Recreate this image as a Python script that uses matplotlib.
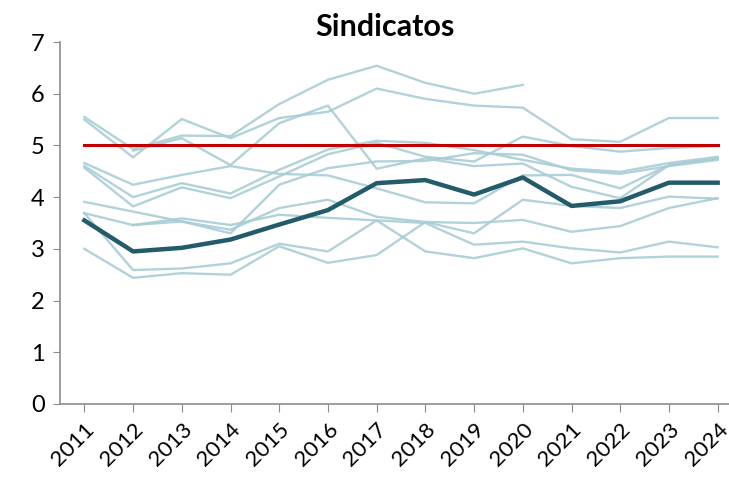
import numpy as np
import matplotlib
matplotlib.use('Agg')
from matplotlib import pyplot as plt

nan = np.nan
years = list(range(2011, 2025))

# individual series (light lines)
serie_a = [5.55, 4.93, 5.19, 5.18, 5.80, 6.27, 6.54, 6.21, 6.00, 6.17, nan, nan, nan, nan]
serie_b = [5.50, 4.77, 5.51, 5.14, 5.53, 5.65, 6.10, 5.90, 5.77, 5.73, 5.12, 5.07, 5.53, 5.53]
serie_c = [nan, 4.90, 5.14, 4.62, 5.43, 5.77, 4.55, 4.75, 4.60, 4.65, 4.20, 3.98, 4.62, 4.75]
serie_d = [4.66, 4.24, 4.43, 4.60, 4.45, 4.42, 4.17, 3.90, 3.88, 4.42, 4.43, 4.17, 4.62, 4.75]
serie_e = [4.60, 4.00, 4.27, 4.07, 4.53, 4.92, 5.09, 5.05, 4.91, 4.72, 4.55, 4.49, 4.66, 4.78]
serie_f = [4.57, 3.82, 4.19, 3.98, 4.40, 4.83, 5.05, 4.78, 4.69, 5.17, 4.99, 4.88, 4.95, 4.99]
serie_g = [nan, 3.46, 3.53, 3.30, 4.24, 4.56, 4.69, 4.70, 4.85, 4.82, 4.52, 4.45, 4.60, 4.72]
serie_h = [3.91, 3.72, 3.53, 3.37, 3.79, 3.95, 3.62, 3.52, 3.50, 3.56, 3.33, 3.44, 3.79, 3.98]
serie_i = [3.69, 3.46, 3.59, 3.46, 3.66, 3.60, 3.55, 3.50, 3.08, 3.14, 3.01, 2.93, 3.14, 3.03]
serie_j = [3.69, 2.59, 2.62, 2.72, 3.10, 2.95, 3.55, 2.95, 2.82, 3.01, 2.72, 2.82, 2.85, 2.85]
serie_k = [3.00, 2.44, 2.53, 2.50, 3.05, 2.73, 2.88, 3.52, 3.30, 3.95, 3.83, 3.79, 4.01, 3.97]

# average (dark line) and reference level
promedio = [3.55, 2.95, 3.02, 3.18, 3.47, 3.75, 4.27, 4.33, 4.05, 4.38, 3.83, 3.92, 4.28, 4.28]
referencia = 5

plt.rcParams['font.family'] = ['Lato', 'DejaVu Sans']

fig = plt.figure(figsize=(7.29, 4.84), dpi=100)
ax = fig.add_axes([60 / 729, 80 / 484, 682 / 729, 362 / 484])

for s in [serie_a, serie_b, serie_c, serie_d, serie_e, serie_f,
          serie_g, serie_h, serie_i, serie_j, serie_k]:
    ax.plot(years, s, color='#a9cdd6', lw=1.7, alpha=0.9)

ax.plot(years, [referencia] * len(years), color='#c00000', lw=2.2)
ax.plot(years, promedio, color='#235b6a', lw=3.2)

ax.set_xlim(2010.5, 2024.5)
ax.set_ylim(0, 7)
ax.set_yticks(range(0, 8))
ax.set_xticks(years)
ax.set_xticklabels([str(y) for y in years], rotation=45, ha='right',
                   rotation_mode='anchor', fontsize=16)
ax.tick_params(axis='y', labelsize=17, length=5, color='#8c8c8c', pad=6)
ax.tick_params(axis='x', length=6, color='#8c8c8c', pad=5)

for side in ['top', 'right']:
    ax.spines[side].set_visible(False)
for side in ['left', 'bottom']:
    ax.spines[side].set_color('#8c8c8c')
    ax.spines[side].set_linewidth(1.2)

ax.set_title('Sindicatos', fontsize=22, fontweight='bold', pad=4,
             x=(385 - 60) / 682)

fig.savefig('out.png', dpi=100)
